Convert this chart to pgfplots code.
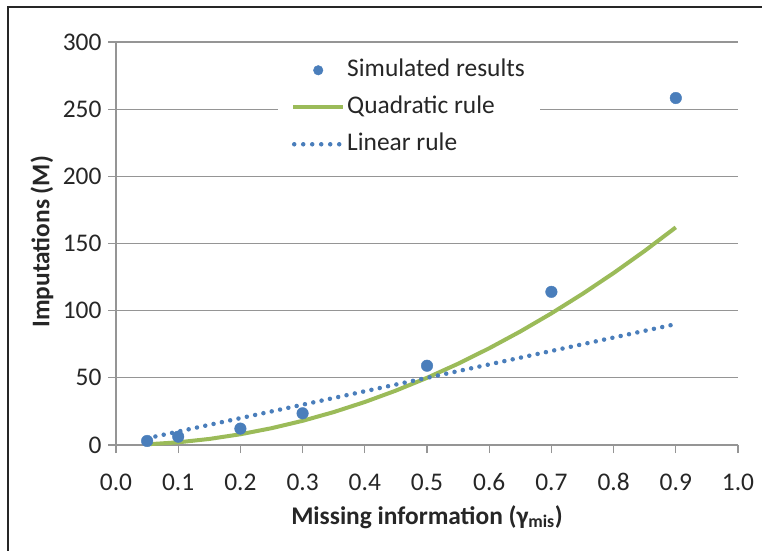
\documentclass[border=0pt]{standalone}
\usepackage{fontspec}
\setmainfont{Carlito}
\usepackage{pgfplots}
\pgfplotsset{compat=1.18}
\definecolor{xblue}{HTML}{4A7EBB}
\definecolor{xgreen}{HTML}{9BBB59}
\definecolor{gridg}{HTML}{959595}
\definecolor{txt}{HTML}{262626}
\newcommand{\fs}{\fontsize{25.5}{30}\selectfont}
\begin{document}
\begin{tikzpicture}
\begin{axis}[
  at={(116bp,106bp)}, anchor=south west,
  scale only axis, width=622bp, height=403bp,
  xmin=0, xmax=1, ymin=0, ymax=300,
  xtick={0,0.1,0.2,0.3,0.4,0.5,0.6,0.7,0.8,0.9,1},
  xticklabels={0.0,0.1,0.2,0.3,0.4,0.5,0.6,0.7,0.8,0.9,1.0},
  ytick={0,50,100,150,200,250,300},
  axis x line*=bottom, axis y line*=left,
  x axis line style={-}, y axis line style={-},
  axis line style={gridg, line width=1.3bp},
  tick style={gridg, line width=1.3bp},
  tick align=outside, major tick length=8bp,
  ymajorgrids, grid style={gridg, line width=1.3bp},
  tick label style={font=\fs, text=txt},
  xticklabel style={yshift=-17bp},
  yticklabel style={xshift=-3bp},
  /pgf/number format/assume math mode=true,
  xlabel={Missing information (γ\textsubscript{mis})},
  ylabel={Imputations (M)},
  xlabel style={font=\bfseries\fs, text=txt, at={(axis description cs:0.5,-0.178)}, anchor=center},
  ylabel style={font=\bfseries\fs, text=txt, at={(axis description cs:-0.119,0.504)}, anchor=center, rotate=0},
  legend style={at={(axis description cs:0.2605,0.975)}, anchor=north west, draw=none, fill=white,
    font=\fs, text=txt, row sep=13bp, inner xsep=13bp, inner ysep=6bp,
    nodes={inner xsep=2bp, inner ysep=0bp, text height=18bp, text depth=6bp}},
  legend cell align=left,
  clip=false,
]
\addplot[only marks, mark=*, mark size=5.8bp, color=xblue,
  legend image code/.code={\fill[xblue] (25bp,0) circle (4.8bp);}]
  coordinates {(0.05,3) (0.1,6.2) (0.2,12.2) (0.3,23.6) (0.5,59) (0.7,114) (0.9,258.3)};
\addlegendentry{Simulated results}
\addplot[no marks, color=xgreen, line width=4bp,
  legend image code/.code={\draw[xgreen, line width=4bp] (0,0) -- (50bp,0);}]
  coordinates {(0.05,0.5) (0.1,2) (0.15,4.5) (0.2,8) (0.25,12.5) (0.3,18) (0.35,24.5) (0.4,32) (0.45,40.5) (0.5,50) (0.55,60.5) (0.6,72) (0.65,84.5) (0.7,98) (0.75,112.5) (0.8,128) (0.85,144.5) (0.9,162)};
\addlegendentry{Quadratic rule}
\addplot[no marks, color=xblue, line width=4.5bp, line cap=round, dash pattern=on 0pt off 8.5bp,
  legend image code/.code={\draw[xblue, line width=4.5bp, line cap=round, dash pattern=on 0pt off 9bp] (1bp,0) -- (46bp,0);}]
  coordinates {(0.05,5) (0.9,90)};
\addlegendentry{Linear rule}
\end{axis}
\draw[line width=2bp, black!85] (8bp,-5bp) -- (8bp,544bp) -- (770bp,544bp);
\pgfresetboundingbox
\useasboundingbox (0bp,0bp) rectangle (762bp,551bp);
\end{tikzpicture}
\end{document}
